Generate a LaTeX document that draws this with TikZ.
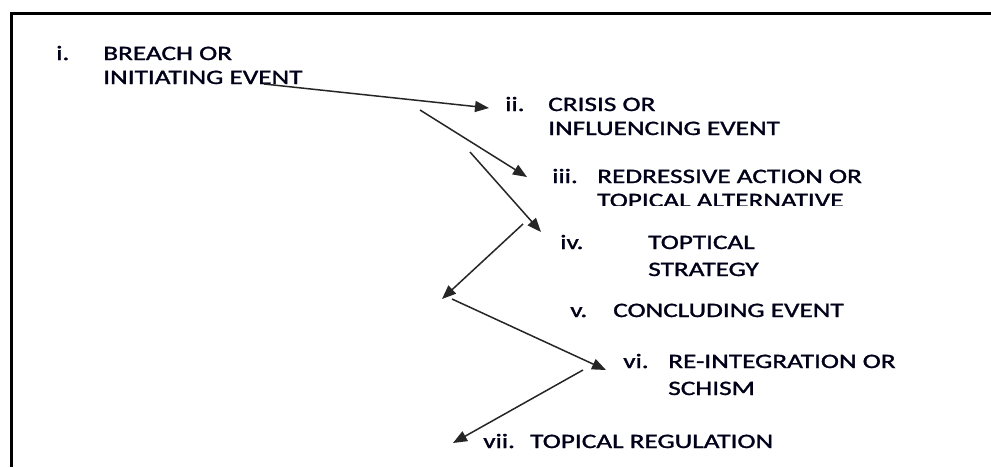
\documentclass[tikz,border=0pt]{standalone}
\usepackage{fontspec}
\usepackage{tikz}
\usetikzlibrary{arrows.meta, positioning, calc}
\setmainfont{Carlito}
\newfontfamily\stagefamily[FakeBold=1.2]{Carlito}
\newcommand{\itemfont}{\stagefamily\fontsize{20.5}{24}\selectfont}

\begin{document}
\begin{tikzpicture}[x=1pt, y=-1pt,
    stage/.style={anchor=base west, inner sep=0pt, align=left,
                  font=\itemfont, text=black!90!blue, xscale=1.33},
    flow/.style={-{Triangle[length=14pt, width=11pt]}, line width=1.5pt,
                 draw=black!85}]
    \useasboundingbox (0,0) rectangle (991,467);
    \fill[white] (0,0) rectangle (991,467);

    % frame, open at right and bottom
    \draw[line width=3pt] (991,13) -| (11,467);

    % stages (base = baseline of the last line)
    \node[stage] (n1) at (56,60) {i.};
    \node[stage] (t1) at (103,84) {BREACH OR\\INITIATING EVENT};
    \node[stage] (n2) at (505,111) {ii.};
    \node[stage] (t2) at (548,135) {CRISIS OR\\INFLUENCING EVENT};
    \begin{scope}
        \clip (0,0) rectangle (991,205);
        \node[stage] (n3) at (552,183) {iii.};
        \node[stage] (t3) at (597,207) {REDRESSIVE ACTION OR\\TOPICAL ALTERNATIVE};
    \end{scope}
    \node[stage] (n4) at (560,249) {iv.};
    \node[stage] (t4) at (648,276) {TOPTICAL\\[3pt]STRATEGY};
    \node[stage] (n5) at (570,317) {v.};
    \node[stage] (t5) at (613,317) {CONCLUDING EVENT};
    \node[stage] (n6) at (623,368) {vi.};
    \node[stage] (t6) at (668,395) {RE-INTEGRATION OR\\[3pt]SCHISM};
    \node[stage] (n7) at (483,448) {vii.};
    \node[stage] (t7) at (530,448) {TOPICAL REGULATION};

    % free ends of the arrows
    \coordinate (a1) at (264,84);
    \coordinate (b1) at (489,108);
    \coordinate (a2) at (420,110);
    \coordinate (b2) at (527,177);
    \coordinate (a3) at (470,152);
    \coordinate (b3) at (541,232);
    \coordinate (a4) at (523,224);
    \coordinate (b4) at (442,299);
    \coordinate (a5) at (452,299);
    \coordinate (b5) at (606,370);
    \coordinate (a6) at (583,370);
    \coordinate (b6) at (453,443);

    \draw[flow] (a1) -- (b1);
    \draw[flow] (a2) -- (b2);
    \draw[flow] (a3) -- (b3);
    \draw[flow] (a4) -- (b4);
    \draw[flow] (a5) -- (b5);
    \draw[flow] (a6) -- (b6);
\end{tikzpicture}
\end{document}
